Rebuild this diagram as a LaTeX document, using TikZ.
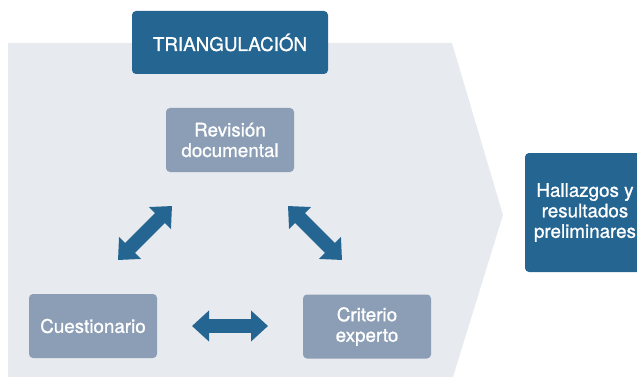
\documentclass[tikz,border=0pt]{standalone}
\usepackage{fontspec}
\setmainfont{TeX Gyre Heros}[FakeBold=1]
\usetikzlibrary{arrows.meta}
\definecolor{bleufonce}{RGB}{37,101,145}
\definecolor{grisbleu}{RGB}{140,158,181}
\definecolor{fond}{RGB}{231,234,239}
\tikzset{
	boite/.style={fill=grisbleu, rounded corners=4pt, text=white, align=center,
		minimum width=128pt, minimum height=64pt, font=\fontsize{18.8}{20.5}\selectfont},
	titre/.style={fill=bleufonce, rounded corners=4pt, text=white, align=center,
		font=\fontsize{18.8}{20.5}\selectfont},
	fleche/.style={bleufonce, line width=14pt,
		{Triangle[length=17pt,width=30pt]}-{Triangle[length=17pt,width=30pt]}}
}
\begin{document}
\begin{tikzpicture}[x=1pt, y=-1pt]
	\useasboundingbox (0,0) rectangle (637,377);
	\clip (0,0) rectangle (637,377);
	% le fond en chevron
	\fill[fond] (8,43) -- (452,43) -- (503,215) -- (453,377) -- (8,377) -- cycle;
	% les titres
	\node[titre, minimum width=196pt, minimum height=63pt] (tri) at (230,42.5) {TRIANGULACIÓN};
	\node[titre, minimum width=120pt, minimum height=119pt] (hall) at (585,212.5) {Hallazgos y\\resultados\\preliminares};
	% les trois sources
	\node[boite] (rev) at (230,140) {Revisión\\documental};
	\node[boite] (cues) at (93,326) {Cuestionario};
	\node[boite] (crit) at (367,326.5) {Criterio\\experto};
	% les extremites des fleches
	\coordinate (cuesA) at (118,260);
	\coordinate (revA) at (172,206);
	\coordinate (revB) at (288,206);
	\coordinate (critA) at (342,260);
	\coordinate (cuesB) at (192,326);
	\coordinate (critB) at (268,326);
	% les fleches doubles
	\draw[fleche] (cuesA) -- (revA);
	\draw[fleche] (revB) -- (critA);
	\draw[fleche] (cuesB) -- (critB);
\end{tikzpicture}
\end{document}
